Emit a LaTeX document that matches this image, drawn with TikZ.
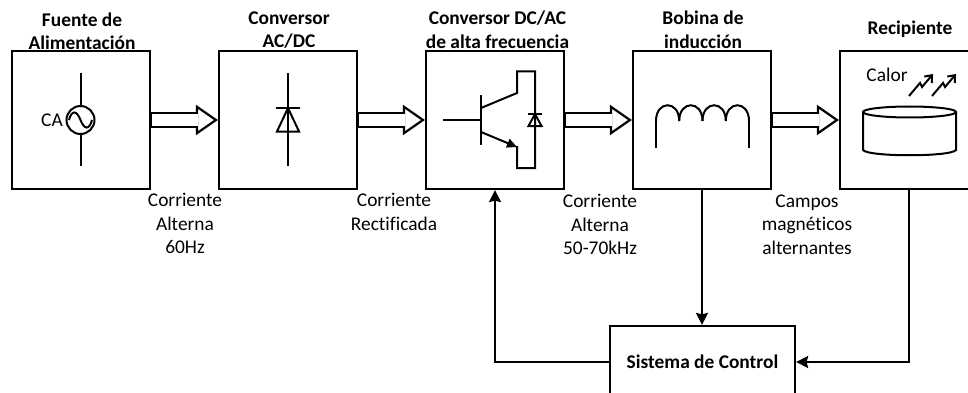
\documentclass[tikz,border=0pt]{standalone}
\usepackage{fontspec}
\setmainfont[Ligatures=NoCommon]{Carlito}
\usetikzlibrary{arrows.meta}
\tikzset{
    blockbox/.style={rectangle, draw=black, line width=2.2pt, minimum width=138pt, minimum height=138pt, inner sep=0pt},
    ctrlbox/.style={rectangle, draw=black, line width=2.2pt, minimum width=185pt, minimum height=72pt, inner sep=0pt},
    titletext/.style={align=center, font=\fontsize{19.4}{23.5}\selectfont\bfseries, inner sep=0pt},
    signaltext/.style={align=center, font=\fontsize{19.4}{23.5}\selectfont, inner sep=0pt},
    symline/.style={line width=2pt, line join=miter},
    hollowarrow/.style={line width=2.2pt, -{Triangle[open, length=22pt, width=30pt]},
        preaction={draw, -, line width=16pt, shorten >=21pt},
        postaction={draw=white, -, line width=11.6pt, shorten >=20pt, shorten <=1pt}},
    feedback/.style={line width=2pt, -{Stealth[inset=1.5pt, length=12pt, width=12pt]}}
}
\begin{document}
\begin{tikzpicture}[x=1pt, y=-1pt]
    \useasboundingbox (0, 0) rectangle (968, 393);
    \clip (0, 0) rectangle (968, 393);

    \node[blockbox] (fuente) at (81, 120) {};
    \node[blockbox] (rectificador) at (288, 120) {};
    \node[blockbox] (inversor) at (495, 120) {};
    \node[blockbox] (bobina) at (702, 120) {};
    \node[blockbox] (recipiente) at (909, 120) {};
    \node[ctrlbox] (control) at (702.5, 362) {\fontsize{19.4}{23}\selectfont\bfseries Sistema de Control};

    \node[titletext] (tfuente) at (82, 31.5) {Fuente de\\Alimentación};
    \node[titletext] (trectificador) at (289, 30) {Conversor\\AC/DC};
    \node[titletext] (tinversor) at (497.5, 30) {Conversor DC/AC\\de alta frecuencia};
    \node[titletext] (tbobina) at (703, 30) {Bobina de\\inducción};
    \node[titletext] (trecipiente) at (910, 29) {Recipiente};

    \node[signaltext] (s1) at (185, 223.5) {Corriente\\Alterna\\60Hz};
    \node[signaltext] (s2) at (394, 212) {Corriente\\Rectificada};
    \node[signaltext] (s3) at (600, 224.5) {Corriente\\Alterna\\50-70kHz};
    \node[signaltext] (s4) at (807, 224.5) {Campos\\magnéticos\\alternantes};

    \draw[hollowarrow] (fuente) -- (rectificador);
    \draw[hollowarrow] (rectificador) -- (inversor);
    \draw[hollowarrow] (inversor) -- (bobina);
    \draw[hollowarrow] (bobina) -- (recipiente);

    \draw[feedback] (bobina) -- (bobina |- control.north);
    \draw[feedback] (control.west) -| (inversor.south);
    \draw[feedback] (recipiente.south) |- (control.east);

    \node[signaltext] (ca) at (52, 120.5) {CA};
    \draw[symline] (80.5, 73) -- (80.5, 106);
    \draw[symline] (80.5, 134.5) -- (80.5, 166);
    \draw[symline] (80.5, 120) circle (14);
    \draw[symline] (69, 120) .. controls (72, 109) and (77, 111) .. (80.5, 120) .. controls (84, 129) and (89, 131) .. (92, 120);

    \draw[symline] (288, 73) -- (288, 166);
    \draw[symline] (276, 108) -- (300, 108);
    \draw[symline] (288, 108) -- (277, 131.5) -- (299, 131.5) -- cycle;

    \draw[symline] (443, 120) -- (480, 120);
    \draw[symline] (480.5, 95) -- (480.5, 144.5);
    \draw[symline] (481, 108) -- (517, 93) -- (517, 71.5) -- (535, 71.5) -- (535, 168) -- (517, 168) -- (517, 146);
    \draw[symline, -{Triangle[length=10pt, width=9pt]}] (481, 132) -- (517, 147);
    \draw[symline] (528, 114) -- (542, 114);
    \draw[symline] (535, 114) -- (528.5, 126) -- (541.5, 126) -- cycle;

    \foreach \hx/\nx in {656/679.2, 679.2/702.5, 702.5/725.8, 725.8/749} {
        \draw[symline] (\hx, 121) .. controls (\hx, 100) and (\nx, 100) .. (\nx, 121);
    }
    \draw[symline] (656, 148) -- (656, 120);
    \draw[symline] (749, 120) -- (749, 148);

    \node[signaltext] (calor) at (887, 75) {Calor};
    \foreach \dx in {0, 23} {
        \draw[symline, -{Straight Barb[length=6pt, width=10pt]}] (909+\dx, 96) -- (920+\dx, 83) -- (922+\dx, 87) -- (933+\dx, 74);
    }
    \draw[symline] (909.5, 112) ellipse (46.5 and 5.5);
    \draw[symline] (863, 112) -- (863, 150) .. controls (868, 157) and (951, 157) .. (956, 150) -- (956, 112);
\end{tikzpicture}
\end{document}
